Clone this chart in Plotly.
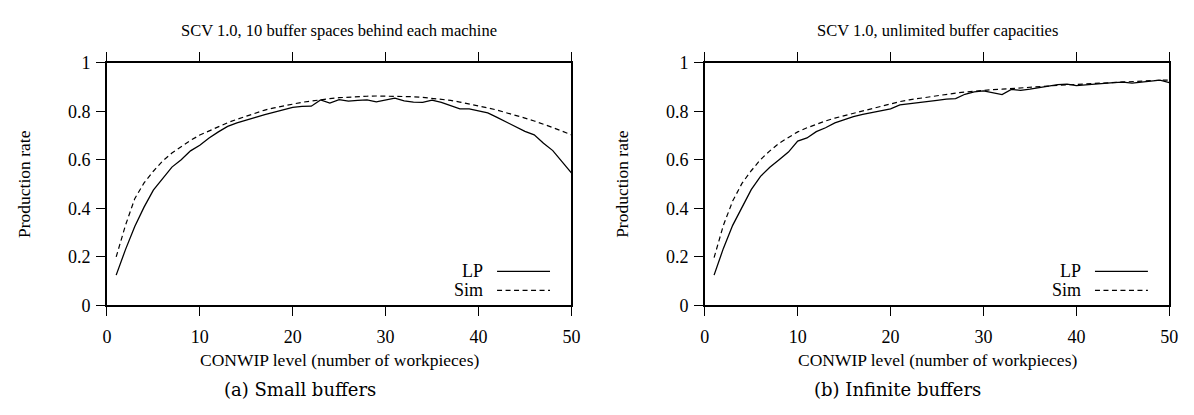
import plotly.graph_objects as go
from plotly.subplots import make_subplots

conwip = list(range(1, 51))

lp_small = [0.125, 0.23, 0.325, 0.405, 0.475, 0.525, 0.57, 0.60, 0.637, 0.66,
            0.69, 0.715, 0.738, 0.752, 0.765, 0.775, 0.786, 0.797, 0.805, 0.816,
            0.82, 0.821, 0.847, 0.834, 0.848, 0.842, 0.845, 0.847, 0.839, 0.846,
            0.854, 0.843, 0.838, 0.837, 0.846, 0.837, 0.822, 0.81, 0.81, 0.80,
            0.793, 0.775, 0.755, 0.735, 0.717, 0.703, 0.668, 0.638, 0.592, 0.546]
sim_small = [0.20, 0.33, 0.44, 0.505, 0.553, 0.595, 0.628, 0.655, 0.68, 0.702,
             0.72, 0.737, 0.753, 0.767, 0.78, 0.795, 0.805, 0.814, 0.822, 0.83,
             0.837, 0.842, 0.848, 0.852, 0.856, 0.859, 0.861, 0.862, 0.863, 0.863,
             0.863, 0.862, 0.86, 0.857, 0.854, 0.85, 0.845, 0.838, 0.831, 0.822,
             0.814, 0.805, 0.795, 0.785, 0.772, 0.76, 0.748, 0.733, 0.718, 0.703]

lp_inf = [0.125, 0.235, 0.33, 0.405, 0.477, 0.532, 0.569, 0.60, 0.632, 0.677,
          0.69, 0.716, 0.732, 0.752, 0.765, 0.778, 0.787, 0.795, 0.803, 0.81,
          0.826, 0.83, 0.835, 0.84, 0.845, 0.85, 0.852, 0.87, 0.88, 0.884,
          0.875, 0.869, 0.89, 0.886, 0.891, 0.898, 0.905, 0.91, 0.912, 0.906,
          0.909, 0.913, 0.915, 0.918, 0.92, 0.916, 0.92, 0.925, 0.928, 0.918]
sim_inf = [0.197, 0.33, 0.43, 0.503, 0.555, 0.601, 0.637, 0.668, 0.692, 0.715,
           0.732, 0.747, 0.76, 0.772, 0.782, 0.793, 0.803, 0.812, 0.822, 0.832,
           0.84, 0.847, 0.853, 0.859, 0.865, 0.871, 0.875, 0.879, 0.883, 0.886,
           0.889, 0.891, 0.893, 0.895, 0.898, 0.901, 0.904, 0.907, 0.909, 0.911,
           0.913, 0.916, 0.918, 0.92, 0.921, 0.923, 0.925, 0.927, 0.928, 0.928]

titles = ["SCV 1.0, 10 buffer spaces behind each machine", "SCV 1.0, unlimited buffer capacities"]
captions = ["(a) Small buffers", "(b) Infinite buffers"]
x_ticks = [0, 10, 20, 30, 40, 50]
y_ticks = [0, 0.2, 0.4, 0.6, 0.8, 1]

SERIF = "Liberation Serif"
W, H = 1194, 415
OFF = 8  # default body margin of the html page
DASH = "5px,3.5px"

def py(p):
    """target pixel row in the photo -> paper y"""
    return 1 - (p - OFF) / H

def px(p):
    return (p - OFF) / W

fig = make_subplots(rows=1, cols=2)

panels = [(lp_small, sim_small), (lp_inf, sim_inf)]
for i, (lp, sim) in enumerate(panels, start=1):
    fig.add_trace(go.Scatter(x=conwip, y=lp, mode="lines", name="LP",
                             line=dict(color="black", width=1.3)), row=1, col=i)
    fig.add_trace(go.Scatter(x=conwip, y=sim, mode="lines", name="Sim",
                             line=dict(color="black", width=1.2, dash=DASH)), row=1, col=i)

# panel frames in photo pixels
left_px = [103, 708]
plot_w = 470
top_px, bottom_px = 55, 310

axis_common = dict(showline=True, linecolor="black", linewidth=1.5, ticks="outside",
                   ticklen=9, tickwidth=1, tickcolor="black", showgrid=False, zeroline=False,
                   tickfont=dict(family=SERIF, size=18, color="black"))

for i in range(2):
    suf = "" if i == 0 else "2"
    x0 = px(left_px[i])
    x1 = px(left_px[i] + plot_w)
    fig.layout["xaxis" + suf].update(domain=[x0, x1], range=[0, 50], tickvals=x_ticks,
                                     mirror="ticks", ticklabelstandoff=5, **axis_common)
    fig.layout["yaxis" + suf].update(domain=[py(bottom_px), py(top_px)], range=[0, 1],
                                     tickvals=y_ticks, mirror=True, ticklabelstandoff=2,
                                     **axis_common)

    xc = (x0 + x1) / 2
    fig.add_annotation(text=titles[i], x=xc, y=py(21), xref="paper", yref="paper",
                       xanchor="center", yanchor="middle", showarrow=False,
                       font=dict(family=SERIF, size=16.5, color="black"))
    fig.add_annotation(text="CONWIP level (number of workpieces)", x=xc, y=py(367),
                       xref="paper", yref="paper", xanchor="center", yanchor="middle",
                       showarrow=False, font=dict(family=SERIF, size=17.5, color="black"))
    fig.add_annotation(text="Production rate", x=px(left_px[i] - 84), y=py((top_px + bottom_px) / 2),
                       xref="paper", yref="paper", xanchor="center", yanchor="middle",
                       textangle=-90, showarrow=False,
                       font=dict(family=SERIF, size=17.5, color="black"))
    fig.add_annotation(text=captions[i], x=px(left_px[i] - 103 + 298), y=py(398),
                       xref="paper", yref="paper", xanchor="center", yanchor="middle",
                       showarrow=False, font=dict(family="DejaVu Serif", size=18, color="black"))

    # gnuplot-style key: label on the left, line sample on the right
    xr = "x" + suf + " domain"
    yr = "y" + suf + " domain"
    for label, ky, dash in [("LP", 0.14, "solid"), ("Sim", 0.062, DASH)]:
        fig.add_annotation(text=label, x=0.814, y=ky, xref=xr, yref=yr, xanchor="right",
                           yanchor="middle", showarrow=False,
                           font=dict(family=SERIF, size=18, color="black"))
        fig.add_shape(type="line", x0=0.84, x1=0.954, y0=ky, y1=ky, xref=xr, yref=yr,
                      line=dict(color="black", width=1.2, dash=dash))

fig.update_layout(width=W, height=H, margin=dict(l=0, r=0, t=0, b=0),
                  plot_bgcolor="white", paper_bgcolor="white", showlegend=False)

fig.write_html("out.html")
